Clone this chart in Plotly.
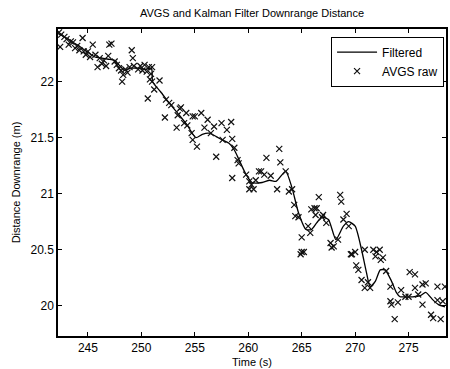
import plotly.graph_objects as go

# Filtered (Kalman) estimate
filt_t = [242.2, 243.0, 243.6, 244.3, 245.0, 245.65, 246.3, 246.9, 247.5, 248.0, 248.4, 249.0,
          249.65, 250.3, 250.95, 251.05, 251.8, 252.6, 253.55, 254.3, 255.1, 255.7, 256.35,
          257.0, 257.55, 258.2, 258.7, 259.15, 259.8, 260.35, 261.3, 262.0, 262.6, 263.5,
          264.1, 264.7, 265.4, 265.9, 266.4, 266.9, 267.5, 268.2, 268.9, 269.4, 270.0, 270.6,
          271.05, 271.4, 271.9, 272.35, 272.8, 273.4, 273.85, 274.2, 274.8, 275.4, 276.1,
          276.6, 277.3, 277.8, 278.4]
filt_v = [22.43, 22.39, 22.35, 22.31, 22.26, 22.22, 22.21, 22.20, 22.19, 22.14, 22.10, 22.12,
          22.12, 22.11, 22.12, 22.00, 21.91, 21.81, 21.70, 21.61, 21.50, 21.53, 21.54,
          21.51, 21.48, 21.45, 21.39, 21.30, 21.17, 21.10, 21.10, 21.12, 21.11, 21.20,
          21.05, 20.83, 20.68, 20.68, 20.74, 20.79, 20.77, 20.59, 20.71, 20.75, 20.71, 20.50,
          20.30, 20.17, 20.22, 20.32, 20.32, 20.22, 20.12, 20.08, 20.08, 20.08, 20.09,
          20.12, 20.05, 20.01, 19.99]

# AVGS raw measurements
raw_t = [242.3, 242.4, 242.5, 242.8, 243.0, 243.2, 243.4, 243.6, 243.8, 244.0, 244.2, 244.5,
         244.6, 244.8, 245.0, 245.2, 245.45, 245.7, 245.9, 246.1, 246.3, 246.5, 246.7, 246.9,
         247.0, 247.2, 247.5, 247.7, 247.9, 248.1, 248.2, 248.3, 248.5, 248.7, 248.9, 249.1,
         249.2, 249.3, 249.7, 249.9, 250.1, 250.3, 250.5, 250.6, 250.7, 250.8, 250.9, 251.0,
         251.0, 251.2, 251.7, 252.2, 252.3, 252.6, 252.8, 253.3, 253.4, 253.6, 253.7, 254.0,
         254.2, 254.3, 254.7, 254.8, 254.8, 255.0, 255.2, 255.6, 255.9, 256.2, 256.5, 256.8,
         257.0, 257.5, 257.6, 258.0, 258.4, 258.5, 258.5, 258.7, 259.0, 259.1, 259.8, 260.1,
         260.1, 260.3, 260.5, 260.7, 261.0, 261.2, 261.5, 261.7, 262.1, 262.7, 262.9, 263.0,
         263.5, 263.8, 264.1, 264.3, 264.4, 264.7, 264.9, 265.0, 265.0, 265.2, 265.6, 265.8,
         265.9, 266.2, 266.3, 266.4, 266.6, 266.9, 267.0, 267.3, 267.7, 267.8, 268.0, 268.4,
         268.6, 268.7, 268.9, 269.2, 269.4, 269.6, 269.7, 270.0, 270.1, 270.3, 270.6, 270.9,
         270.9, 271.2, 271.4, 271.7, 271.9, 272.0, 272.3, 272.4, 272.6, 272.9, 273.3, 273.3,
         273.4, 273.7, 274.0, 274.3, 274.7, 275.0, 275.1, 275.6, 275.6, 275.9, 276.3, 276.3,
         276.6, 277.1, 277.3, 277.7, 277.7, 278.0, 278.2, 278.4]
raw_v = [22.44, 22.31, 22.42, 22.40, 22.38, 22.33, 22.36, 22.35, 22.30, 22.32, 22.28, 22.39,
         22.27, 22.24, 22.27, 22.22, 22.33, 22.24, 22.13, 22.21, 22.16, 22.19, 22.14, 22.23,
         22.33, 22.34, 22.18, 22.15, 22.12, 22.10, 22.00, 22.06, 22.11, 22.08, 22.13, 22.28,
         22.21, 22.14, 22.11, 22.14, 22.10, 22.15, 22.09, 21.85, 22.13, 22.02, 22.07, 22.00,
         22.13, 21.93, 22.01, 21.68, 21.84, 21.81, 21.79, 21.59, 21.70, 21.76, 21.77, 21.63,
         21.72, 21.61, 21.54, 21.48, 21.69, 21.69, 21.42, 21.72, 21.59, 21.66, 21.54, 21.60,
         21.33, 21.63, 21.48, 21.57, 21.64, 21.49, 21.14, 21.41, 21.30, 21.27, 21.17, 21.11,
         21.04, 21.08, 21.04, 21.12, 21.20, 21.20, 21.17, 21.32, 21.16, 21.04, 21.40, 21.28,
         21.20, 21.02, 21.04, 20.90, 20.80, 20.79, 20.46, 20.61, 20.48, 20.48, 20.71, 20.65,
         20.86, 20.87, 20.81, 20.87, 20.97, 20.79, 20.81, 20.74, 20.56, 20.52, 20.53, 20.59,
         20.99, 20.93, 20.77, 20.82, 20.71, 20.46, 20.46, 20.48, 20.36, 20.32, 20.23, 20.50,
         20.16, 20.21, 20.16, 20.50, 20.44, 20.48, 20.50, 20.41, 20.43, 20.31, 20.17, 20.04,
         20.01, 19.88, 20.03, 20.14, 20.08, 20.08, 20.30, 20.28, 20.16, 20.10, 20.19, 20.01,
         20.20, 19.92, 19.89, 20.17, 20.05, 19.88, 20.04, 20.17]

x_range = [242.2, 278.5]
y_range = [19.73, 22.47]
x_ticks = [245, 250, 255, 260, 265, 270, 275]
y_ticks = [20, 20.5, 21, 21.5, 22]
y_labels = ["20", "20.5", "21", "21.5", "22"]

fnt = "Liberation Sans, Arial, sans-serif"

fig = go.Figure()
fig.add_trace(go.Scatter(x=filt_t, y=filt_v, mode="lines", name="Filtered",
                         line=dict(color="black", width=1.3, shape="spline", smoothing=0.6)))
fig.add_trace(go.Scatter(x=raw_t, y=raw_v, mode="markers", name="AVGS raw",
                         marker=dict(symbol="x-thin", size=6, color="#111",
                                     line=dict(color="#111", width=1.2))))

axis_common = dict(showline=True, linecolor="black", linewidth=1.5, mirror="ticks",
                   ticks="inside", ticklen=4, tickcolor="black", showgrid=False,
                   zeroline=False, tickfont=dict(family=fnt, size=12, color="black"))

fig.update_layout(
    width=450, height=369,
    margin=dict(l=58, r=2, t=29, b=33),
    paper_bgcolor="white", plot_bgcolor="white",
    title=dict(text="AVGS and Kalman Filter Downrange Distance", x=0.56, xanchor="center",
               y=0.965, yanchor="middle",
               font=dict(family=fnt, size=11, color="black")),
    xaxis=dict(range=x_range, tickvals=x_ticks, **axis_common,
               title=dict(text="Time (s)", standoff=4,
                          font=dict(family=fnt, size=11, color="black"))),
    yaxis=dict(range=y_range, tickvals=y_ticks, ticktext=y_labels, **axis_common,
               title=dict(text="Distance Downrange (m)", standoff=8,
                          font=dict(family=fnt, size=11, color="black"))),
    legend=dict(x=0.995, y=0.975, xanchor="right", yanchor="top",
                bordercolor="black", borderwidth=1, bgcolor="white",
                font=dict(family=fnt, size=12, color="black"),
                tracegroupgap=0, itemwidth=40),
    showlegend=True,
)

fig.write_html("out.html")
